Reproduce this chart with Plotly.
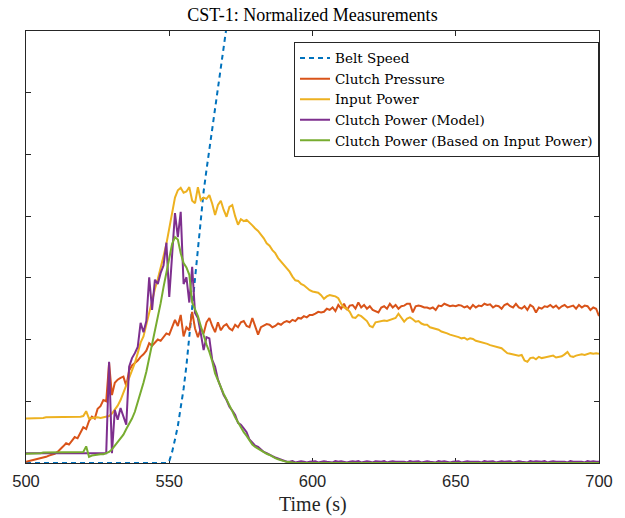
import plotly.graph_objects as go

# ---------------- data ----------------
time_s = list(range(500, 701))

belt_time = [500, 549, 550, 551, 552, 553, 554, 555, 556, 557, 558, 559, 560,
             561, 562, 563, 564, 565, 566, 567, 568, 569, 570, 571]
belt_speed = [0, 0, 0.03, 0.18, 0.38, 0.60, 0.90, 1.20, 1.58, 2.05, 2.50, 3.00, 3.50,
              3.95, 4.40, 4.75, 5.08, 5.40, 5.75, 6.08, 6.40, 6.75, 7.05, 7.40]

clutch_pressure = [
    0.02, 0.03, 0.04, 0.05, 0.06, 0.07, 0.08, 0.10, 0.12, 0.13,   # 500
    0.15, 0.18, 0.22, 0.27, 0.32, 0.30, 0.36, 0.42, 0.40, 0.50,   # 510
    0.58, 0.55, 0.68, 0.75, 0.72, 0.88, 0.92, 1.02, 1.00, 1.62,   # 520
    1.10, 1.30, 1.35, 1.38, 1.40, 1.25, 1.50, 1.58, 1.62, 1.66,   # 530
    1.72, 1.76, 1.82, 1.94, 1.90, 1.96, 2.00, 1.98, 2.05, 2.10,   # 540
    2.08, 2.20, 2.32, 2.22, 2.40, 2.05, 2.20, 2.15, 2.45, 2.18,   # 550
    2.04, 2.18, 2.10, 2.28, 2.35, 2.22, 2.12, 2.28, 2.15, 2.22,   # 560
    2.25, 2.18, 2.15, 2.24, 2.20, 2.28, 2.30, 2.22, 2.20, 2.35,   # 570
    2.22, 2.08, 2.20, 2.22, 2.25, 2.24, 2.20, 2.22, 2.26, 2.24,   # 580
    2.28, 2.30, 2.28, 2.32, 2.30, 2.35, 2.34, 2.38, 2.36, 2.40,   # 590
    2.40, 2.42, 2.45, 2.44, 2.45, 2.50, 2.48, 2.52, 2.46, 2.56,   # 600
    2.50, 2.58, 2.48, 2.55, 2.56, 2.50, 2.60, 2.52, 2.56, 2.50,   # 610
    2.54, 2.48, 2.46, 2.44, 2.52, 2.54, 2.50, 2.58, 2.52, 2.56,   # 620
    2.50, 2.54, 2.55, 2.58, 2.58, 2.44, 2.54, 2.55, 2.54, 2.52,   # 630
    2.52, 2.50, 2.52, 2.48, 2.55, 2.54, 2.58, 2.56, 2.54, 2.55,   # 640
    2.54, 2.56, 2.55, 2.52, 2.54, 2.50, 2.56, 2.52, 2.55, 2.54,   # 650
    2.58, 2.56, 2.57, 2.52, 2.55, 2.54, 2.50, 2.56, 2.58, 2.54,   # 660
    2.52, 2.58, 2.52, 2.50, 2.54, 2.48, 2.56, 2.53, 2.44, 2.52,   # 670
    2.50, 2.54, 2.53, 2.56, 2.52, 2.55, 2.50, 2.54, 2.56, 2.52,   # 680
    2.54, 2.55, 2.50, 2.56, 2.52, 2.55, 2.54, 2.48, 2.52, 2.50,   # 690
    2.38,                                                         # 700
]

input_power = [
    0.72, 0.72, 0.73, 0.73, 0.72, 0.73, 0.73, 0.74, 0.74, 0.75,   # 500
    0.74, 0.75, 0.74, 0.74, 0.75, 0.74, 0.74, 0.75, 0.74, 0.75,   # 510
    0.76, 0.84, 0.72, 0.73, 0.73, 0.74, 0.73, 0.74, 0.74, 0.76,   # 520
    0.80, 0.86, 0.93, 1.02, 1.15, 1.25, 1.38, 1.50, 1.62, 1.78,   # 530
    1.95, 2.05, 2.25, 2.45, 2.62, 2.82, 2.98, 3.15, 3.35, 3.55,   # 540
    3.78, 4.05, 4.30, 4.42, 4.46, 4.38, 4.40, 4.47, 4.25, 4.21,   # 550
    4.47, 4.26, 4.30, 4.28, 4.34, 4.20, 4.02, 4.18, 4.25, 4.10,   # 560
    3.99, 4.15, 4.18, 4.00, 3.86, 3.95, 3.92, 3.94, 3.90, 3.85,   # 570
    3.80, 3.76, 3.70, 3.64, 3.56, 3.52, 3.45, 3.40, 3.32, 3.26,   # 580
    3.20, 3.15, 3.10, 3.02, 2.96, 2.95, 2.90, 2.88, 2.84, 2.80,   # 590
    2.78, 2.77, 2.76, 2.72, 2.66, 2.70, 2.72, 2.71, 2.70, 2.67,   # 600
    2.58, 2.52, 2.50, 2.45, 2.36, 2.35, 2.40, 2.38, 2.34, 2.30,   # 610
    2.22, 2.20, 2.28, 2.29, 2.30, 2.31, 2.30, 2.32, 2.33, 2.35,   # 620
    2.42, 2.36, 2.29, 2.34, 2.36, 2.33, 2.29, 2.30, 2.26, 2.24,   # 630
    2.24, 2.20, 2.19, 2.17, 2.16, 2.13, 2.12, 2.10, 2.08, 2.07,   # 640
    2.05, 2.04, 2.02, 2.03, 2.00, 2.02, 2.01, 1.98, 1.97, 1.96,   # 650
    1.94, 1.93, 1.91, 1.90, 1.88, 1.87, 1.86, 1.82, 1.78, 1.77,   # 660
    1.76, 1.75, 1.74, 1.75, 1.66, 1.64, 1.70, 1.71, 1.68, 1.72,   # 670
    1.70, 1.71, 1.72, 1.72, 1.74, 1.71, 1.72, 1.73, 1.76, 1.80,   # 680
    1.73, 1.72, 1.74, 1.75, 1.76, 1.75, 1.77, 1.78, 1.77, 1.78,   # 690
    1.77,                                                         # 700
]

clutch_power_model = [
    0.16, 0.16, 0.16, 0.16, 0.16, 0.16, 0.16, 0.16, 0.16, 0.16,   # 500
    0.16, 0.16, 0.16, 0.16, 0.16, 0.16, 0.16, 0.16, 0.16, 0.16,   # 510
    0.16, 0.16, 0.16, 0.16, 0.16, 0.16, 0.16, 0.16, 0.16, 1.64,   # 520
    0.16, 0.86, 0.70, 0.89, 0.75, 0.62, 1.56, 1.70, 1.78, 1.88,   # 530
    2.27, 2.12, 2.30, 3.01, 2.48, 2.97, 2.90, 3.08, 3.20, 3.57,   # 540
    2.69, 3.40, 4.05, 3.66, 4.07, 2.90, 3.01, 2.60, 3.18, 2.43,   # 550
    2.35, 2.10, 1.83, 2.04, 2.02, 1.67, 1.56, 1.35, 1.23, 1.10,   # 560
    1.02, 0.91, 0.85, 0.78, 0.65, 0.62, 0.56, 0.50, 0.38, 0.32,   # 570
    0.28, 0.26, 0.22, 0.18, 0.16, 0.13, 0.11, 0.09, 0.07, 0.05,   # 580
    0.03, 0.02, 0.02, 0.03, 0.01, 0.02, 0.03, 0.02, 0.01, 0.02,   # 590
    0.02, 0.03, 0.01, 0.02, 0.03, 0.02, 0.02, 0.01, 0.03, 0.02,   # 600
    0.03, 0.02, 0.01, 0.02, 0.03, 0.02, 0.03, 0.01, 0.02, 0.03,   # 610
    0.02, 0.01, 0.03, 0.02, 0.02, 0.03, 0.01, 0.02, 0.03, 0.02,   # 620
    0.02, 0.03, 0.02, 0.01, 0.03, 0.02, 0.02, 0.03, 0.01, 0.02,   # 630
    0.03, 0.02, 0.02, 0.01, 0.03, 0.02, 0.03, 0.02, 0.01, 0.02,   # 640
    0.02, 0.03, 0.01, 0.02, 0.03, 0.02, 0.02, 0.03, 0.02, 0.01,   # 650
    0.03, 0.02, 0.02, 0.03, 0.01, 0.02, 0.03, 0.02, 0.02, 0.03,   # 660
    0.01, 0.02, 0.03, 0.02, 0.02, 0.01, 0.03, 0.02, 0.03, 0.02,   # 670
    0.02, 0.03, 0.01, 0.02, 0.03, 0.02, 0.02, 0.03, 0.02, 0.01,   # 680
    0.03, 0.02, 0.02, 0.03, 0.02, 0.01, 0.03, 0.02, 0.03, 0.02,   # 690
    0.02,                                                         # 700
]

clutch_power_input = [
    0.15, 0.15, 0.16, 0.16, 0.16, 0.16, 0.17, 0.17, 0.17, 0.17,   # 500
    0.17, 0.17, 0.17, 0.17, 0.17, 0.17, 0.17, 0.17, 0.17, 0.18,   # 510
    0.18, 0.27, 0.10, 0.12, 0.13, 0.13, 0.14, 0.14, 0.16, 0.18,   # 520
    0.22, 0.28, 0.34, 0.40, 0.46, 0.55, 0.63, 0.72, 0.83, 0.98,   # 530
    1.12, 1.30, 1.48, 1.70, 1.92, 2.12, 2.35, 2.59, 2.85, 3.10,   # 540
    3.35, 3.55, 3.66, 3.62, 3.40, 3.24, 3.17, 3.05, 2.60, 2.48,   # 550
    2.38, 2.22, 2.05, 1.92, 1.80, 1.65, 1.45, 1.33, 1.22, 1.12,   # 560
    1.03, 0.92, 0.84, 0.74, 0.66, 0.57, 0.50, 0.44, 0.36, 0.30,   # 570
    0.26, 0.23, 0.21, 0.18, 0.15, 0.13, 0.10, 0.08, 0.06, 0.04,   # 580
    0.03, 0.02, 0.01, 0.00, 0.00, 0.00, 0.00, 0.00, 0.00, 0.00,   # 590
] + [0.00] * 101                                                  # 600-700 flat at zero

x_ticks = [500, 550, 600, 650, 700]
y_ticks = [0, 1, 2, 3, 4, 5, 6, 7]

# ---------------- figure ----------------
SERIF = "Liberation Serif"
LEGEND_SERIF = "DejaVu Serif"
SANS = "Liberation Sans"
AX = "#262626"

fig = go.Figure()
fig.add_trace(go.Scatter(x=belt_time, y=belt_speed, mode="lines", name="Belt Speed",
                         line=dict(color="#0072BD", width=2, dash="5px,4px")))
fig.add_trace(go.Scatter(x=time_s, y=clutch_pressure, mode="lines", name="Clutch Pressure",
                         line=dict(color="#D95319", width=2)))
fig.add_trace(go.Scatter(x=time_s, y=input_power, mode="lines", name="Input Power",
                         line=dict(color="#EDB120", width=2)))
fig.add_trace(go.Scatter(x=time_s, y=clutch_power_model, mode="lines", name="Clutch Power (Model)",
                         line=dict(color="#7E2F8E", width=2)))
fig.add_trace(go.Scatter(x=time_s, y=clutch_power_input, mode="lines",
                         name="Clutch Power (Based on Input Power)",
                         line=dict(color="#77AC30", width=2)))

fig.update_layout(
    width=625, height=518,
    margin=dict(l=22, r=16, t=31, b=55),
    paper_bgcolor="white", plot_bgcolor="white",
    title=dict(text="CST-1: Normalized Measurements", x=0.5, xref="paper",
               y=1 - 15 / 518, yref="container", yanchor="middle", xanchor="center",
               font=dict(family=SERIF, size=18, color="black")),
    showlegend=True,
    legend=dict(x=1.0, y=0.975, xanchor="right", yanchor="top",
                bgcolor="white", bordercolor=AX, borderwidth=1,
                font=dict(family=LEGEND_SERIF, size=13.5, color="black"),
                tracegroupgap=0),
    xaxis=dict(range=[500, 700], tickvals=x_ticks, ticktext=[str(v) for v in x_ticks],
               ticks="inside", ticklen=5, tickcolor=AX, showline=True, linecolor=AX,
               linewidth=1, mirror="allticks", showgrid=False, zeroline=False,
               ticklabelstandoff=3,
               tickfont=dict(family=SANS, size=16.5, color=AX), layer="below traces"),
    yaxis=dict(range=[0, 7], tickvals=y_ticks, showticklabels=False,
               ticks="inside", ticklen=5, tickcolor=AX, showline=True, linecolor=AX,
               linewidth=1, mirror="allticks", showgrid=False, zeroline=False,
               layer="below traces"),
    annotations=[dict(text="Time (s)", x=0.5, xref="paper", y=-41 / 432, yref="paper",
                      xanchor="center", yanchor="middle", showarrow=False,
                      font=dict(family=SERIF, size=20, color=AX))],
)

fig.write_html("out.html")
